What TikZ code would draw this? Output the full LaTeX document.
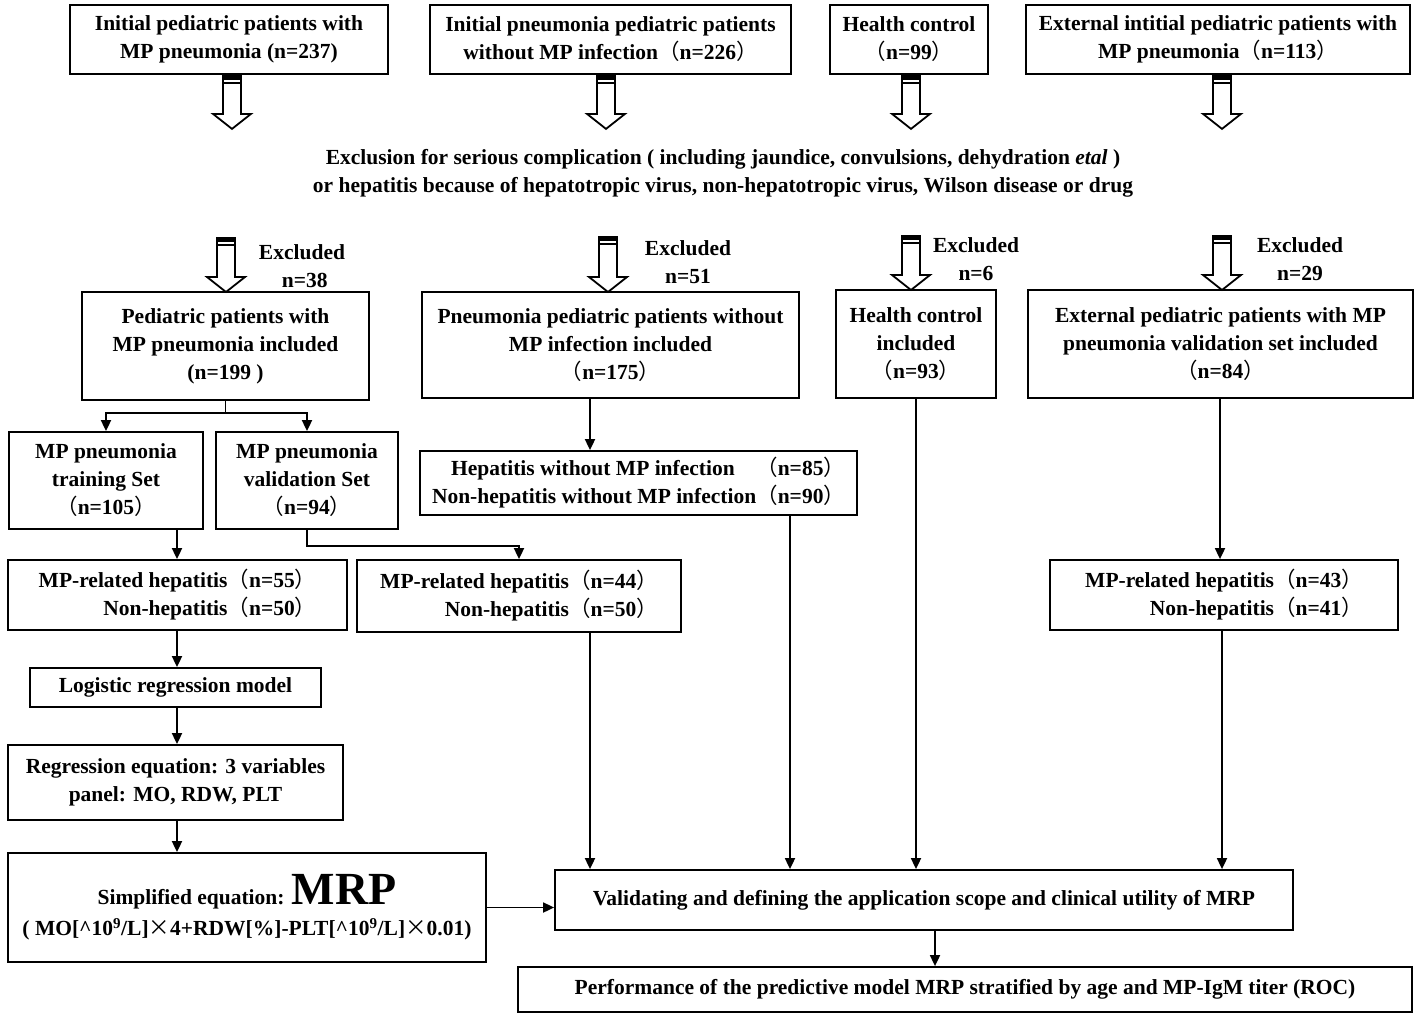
\documentclass[tikz,border=0pt]{standalone}
\usepackage{fontspec}
\setmainfont{Liberation Serif}
\newfontfamily\cjk{Noto Sans CJK SC}
\usetikzlibrary{arrows.meta,calc}
\newcommand\myLP{{\cjk\mdseries （}}
\newcommand\myRP{{\cjk\mdseries ）}}
\newcommand\mySP{{\cjk 　}}
\newcommand\myX{{\cjk\mdseries ×}}
\tikzset{
  box/.style={draw, line width=1.8pt, align=center, inner sep=0pt},
  lbl/.style={align=center, inner sep=0pt},
  arr/.style={line width=1.8pt, -{Triangle[length=11pt,width=10pt]}},
  plain/.style={line width=1.8pt},
  pics/hollow/.style={code={
    \fill (-9,0) rectangle (9,5);
    \fill (-9,7) rectangle (9,9);
    \draw[line width=1.8pt, line join=miter] (-9,0) -- (-9,#1-15) -- (-19,#1-15) -- (0,#1) -- (19,#1-15) -- (9,#1-15) -- (9,0);
  }}
}
\begin{document}
\begin{tikzpicture}[x=1pt,y=-1pt,font=\fontsize{21.5}{28}\selectfont\bfseries]
\fill[white] (0,0) rectangle (1418,1017);
\useasboundingbox (0,0) rectangle (1418,1017);

% row 1
\node[box, minimum width=318pt, minimum height=69pt] (B1) at (229,39.5) {Initial pediatric patients with\\MP pneumonia (n=237)};
\node[box, minimum width=361pt, minimum height=69pt] (B2) at (610.5,39.5) {Initial pneumonia pediatric patients\\without MP infection\myLP n=226\myRP};
\node[box, minimum width=158pt, minimum height=69pt] (B3) at (909,39.5) {Health control\\\myLP n=99\myRP};
\node[box, minimum width=384pt, minimum height=69pt] (B4) at (1218,39.5) {External intitial pediatric patients with\\MP pneumonia\myLP n=113\myRP};

\pic at (B1.south -| 232,0) {hollow=54};
\pic at (B2.south -| 606,0) {hollow=54};
\pic at (B3.south -| 911,0) {hollow=54};
\pic at (B4.south -| 1222,0) {hollow=54};

\node[lbl] (excl) at (723,173.5) {Exclusion for serious complication ( including jaundice, convulsions, dehydration \textit{etal} )\\or hepatitis because of hepatotropic virus, non-hepatotropic virus, Wilson disease or drug};

% row 2
\node[box, minimum width=287pt, minimum height=108pt] (C1) at (225.5,346) {Pediatric patients with\\MP pneumonia included\\(n=199 )};
\node[box, minimum width=377pt, minimum height=106pt] (C2) at (610.5,345) {Pneumonia pediatric patients without\\MP infection included\\\myLP n=175\myRP};
\node[box, minimum width=160pt, minimum height=108pt] (C3) at (916,344) {Health control\\included\\\myLP n=93\myRP};
\node[box, minimum width=385pt, minimum height=108pt] (C4) at (1220.5,344) {External pediatric patients with MP\\pneumonia validation set included\\\myLP n=84\myRP};

\pic at (226,237) {hollow=55};
\pic at (608,236) {hollow=56};
\pic at (911,235) {hollow=55};
\pic at (1222,235) {hollow=55};

\node[lbl] (x1) at (302,266) {Excluded\\\ n=38};
\node[lbl] (x2) at (688,262) {Excluded\\n=51};
\node[lbl] (x3) at (976,259.5) {Excluded\\n=6};
\node[lbl] (x4) at (1300,259.5) {Excluded\\n=29};

% row 3
\node[box, minimum width=194pt, minimum height=97pt] (D1) at (106,480.5) {MP pneumonia\\training Set\\\myLP n=105\myRP};
\node[box, minimum width=182pt, minimum height=97pt] (D2) at (307,480.5) {MP pneumonia\\validation Set\\\myLP n=94\myRP};
\node[box, minimum width=437pt, minimum height=64pt, align=right] (D3) at (638.5,483) {Hepatitis without MP infection\mySP\myLP n=85\myRP\\Non-hepatitis without MP infection\myLP n=90\myRP};

% row 4
\node[box, minimum width=339pt, minimum height=70pt, align=right] (E1) at (177.5,595) {MP-related hepatitis\myLP n=55\myRP\\Non-hepatitis\myLP n=50\myRP};
\node[box, minimum width=324pt, minimum height=72pt, align=right] (E2) at (519,596) {MP-related hepatitis\myLP n=44\myRP\\Non-hepatitis\myLP n=50\myRP};
\node[box, minimum width=348pt, minimum height=70pt, align=right] (E3) at (1224,595) {MP-related hepatitis\myLP n=43\myRP\\Non-hepatitis\myLP n=41\myRP};

\node[box, minimum width=291pt, minimum height=39pt] (F1) at (175.5,687.5) {Logistic regression model};
\node[box, minimum width=335pt, minimum height=75pt] (G1) at (175.5,782.5) {Regression equation: 3 variables\\panel: MO, RDW, PLT};
\node[box, minimum width=478pt, minimum height=109pt] (H1) at (247,907.5) {Simplified equation: {\fontsize{46}{46}\selectfont MRP}\\[3pt]( MO[\textasciicircum10\textsuperscript{9}/L]\myX 4+RDW[\%]-PLT[\textasciicircum10\textsuperscript{9}/L]\myX 0.01)};

\node[box, minimum width=738pt, minimum height=60pt] (V) at (924,900) {Validating and defining the application scope and clinical utility of MRP};
\node[box, minimum width=894pt, minimum height=45pt] (P) at (965,989.5) {Performance of the predictive model MRP stratified by age and MP-IgM titer (ROC)};

% connectors
\draw[plain] (C1.south) -- ($(C1.south)+(0,12)$) coordinate (split);
\draw[arr] (split) -| (D1.north);
\draw[arr] (split) -| (D2.north);
\draw[arr] (C2.south -| 590,0) -- (D3.north -| 590,0);
\draw[arr] (D1.south -| 177,0) -- (E1.north -| 177,0);
\draw[arr] (D2.south) -- ($(D2.south)+(0,16)$) -| (E2.north);
\draw[arr] (C4.south -| 1220,0) -- (E3.north -| 1220,0);
\draw[arr] (E1.south -| 177,0) -- (F1.north -| 177,0);
\draw[arr] (F1.south -| 177,0) -- (G1.north -| 177,0);
\draw[arr] (G1.south -| 177,0) -- (H1.north -| 177,0);
\draw[arr] (H1.east) -- (V.west |- H1.east);
\draw[arr] (E2.south -| 590,0) -- (V.north -| 590,0);
\draw[arr] (D3.south -| 790,0) -- (V.north -| 790,0);
\draw[arr] (C3.south) -- (V.north -| C3.south);
\draw[arr] (E3.south -| 1222,0) -- (V.north -| 1222,0);
\draw[arr] (V.south -| 935,0) -- (P.north -| 935,0);
\end{tikzpicture}
\end{document}
